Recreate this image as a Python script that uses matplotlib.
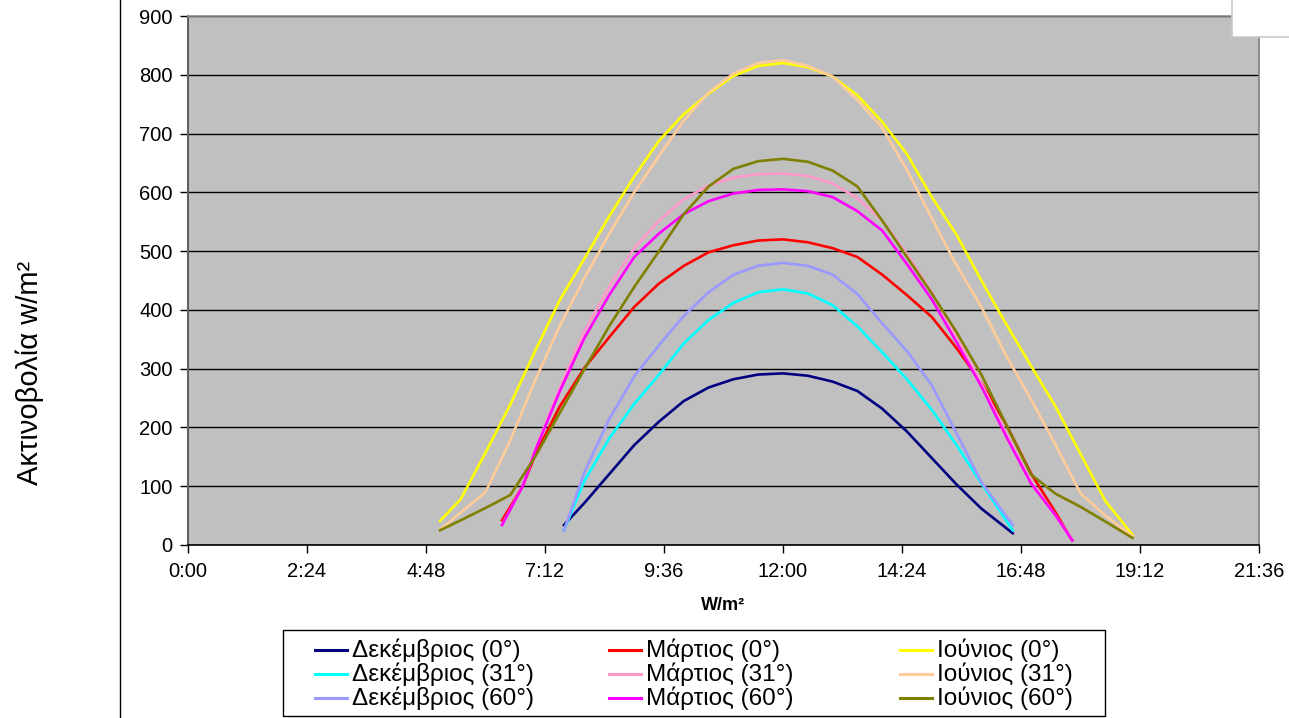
#!/usr/bin/env python3

import matplotlib.pyplot as plt
from matplotlib.lines import Line2D
from matplotlib.patches import Rectangle

plt.rcParams["font.family"] = ["Liberation Sans", "DejaVu Sans"]

OUT_FILE = "out.png"

# time of day in minutes after midnight
dec_times = [455, 480, 510, 540, 570, 600, 630, 660, 690, 720, 750, 780,
             810, 840, 870, 900, 930, 960, 998]
mar_times = [380, 405, 420, 450, 480, 510, 540, 570, 600, 630, 660, 690, 720,
             750, 780, 810, 840, 870, 900, 930, 960, 990, 1020, 1050, 1070]
jun_times = [305, 330, 360, 390, 420, 450, 480, 510, 540, 570, 600, 630, 660,
             690, 720, 750, 780, 810, 840, 870, 900, 930, 960, 990, 1020,
             1050, 1080, 1110, 1143]

# irradiance W/m2, per month and panel tilt
dec_0 = [34, 72, 121, 170, 210, 245, 268, 282, 290, 292, 288, 278, 262,
         232, 193, 148, 103, 62, 20]
dec_31 = [25, 110, 182, 240, 290, 343, 383, 412, 430, 435, 428, 408, 372,
          328, 282, 230, 170, 105, 25]
dec_60 = [25, 125, 215, 287, 340, 390, 430, 460, 475, 480, 475, 460, 427,
          377, 330, 272, 190, 107, 34]

mar_0 = [42, 100, 153, 236, 302, 354, 405, 445, 475, 498, 510, 518, 520,
         515, 505, 490, 460, 425, 388, 335, 276, 205, 122, 55, 8]
mar_31 = [35, 100, 162, 268, 365, 440, 505, 552, 588, 612, 625, 631, 632,
          628, 615, 590, 552, 495, 430, 355, 275, 190, 108, 50, 10]
mar_60 = [34, 100, 160, 262, 353, 426, 490, 530, 563, 585, 598, 604, 605,
          602, 592, 568, 535, 478, 418, 345, 270, 185, 105, 50, 8]

jun_0 = [41, 78, 157, 239, 330, 417, 488, 560, 627, 688, 733, 768, 798, 815,
         820, 813, 797, 765, 720, 665, 592, 528, 450, 376, 305, 235, 155, 75,
         17]
jun_31 = [26, 55, 90, 178, 280, 373, 455, 530, 600, 662, 722, 770, 802, 820,
          825, 815, 797, 757, 710, 638, 556, 476, 405, 322, 248, 170, 88, 50,
          15]
jun_60 = [25, 42, 63, 85, 150, 225, 300, 373, 439, 500, 563, 610, 640, 653,
          657, 652, 637, 610, 552, 490, 428, 362, 290, 205, 120, 87, 65, 40,
          12]

series = [
    ("Δεκέμβριος (0°)", dec_times, dec_0, "#000080"),
    ("Μάρτιος (0°)", mar_times, mar_0, "#FF0000"),
    ("Ιούνιος (0°)", jun_times, jun_0, "#FFFF00"),
    ("Δεκέμβριος (31°)", dec_times, dec_31, "#00FFFF"),
    ("Μάρτιος (31°)", mar_times, mar_31, "#FF99CC"),
    ("Ιούνιος (31°)", jun_times, jun_31, "#FFCC99"),
    ("Δεκέμβριος (60°)", dec_times, dec_60, "#9999FF"),
    ("Μάρτιος (60°)", mar_times, mar_60, "#FF00FF"),
    ("Ιούνιος (60°)", jun_times, jun_60, "#808000"),
]

x_ticks = list(range(0, 1297, 144))
y_ticks = list(range(0, 901, 100))

W, H = 1289, 718


def fmt_time(m):
    return f"{m // 60}:{m % 60:02d}"


def draw_legend(fig):
    # Excel style legend, 3 columns x 3 rows, laid out by hand
    fig.add_artist(Rectangle((283 / W, 1 - 716 / H), 822 / W, 86 / H,
                             facecolor="white", edgecolor="black", lw=1))
    col_x = [315, 609, 900]
    row_y = [650, 674, 698]
    for i, (label, _, _, color) in enumerate(series):
        row, col = divmod(i, 3)
        x0 = col_x[col]
        y = 1 - row_y[row] / H
        fig.add_artist(Line2D([x0 / W, (x0 + 32) / W], [y, y],
                              color=color, lw=2.2))
        fig.text((x0 + 37) / W, y, label, fontsize=17.5,
                 ha="left", va="center")


def main():
    fig = plt.figure(figsize=(W / 100, H / 100), dpi=100)
    ax = fig.add_axes([188 / W, 1 - 545 / H, (1259 - 188) / W, (545 - 16) / H])
    ax.set_facecolor("#C0C0C0")

    for label, t, v, color in series:
        ax.plot(t, v, color=color, lw=1.9, solid_joinstyle="round")

    ax.set_xlim(0, 1296)
    ax.set_ylim(0, 900)
    ax.set_xticks(x_ticks)
    ax.set_xticklabels([fmt_time(m) for m in x_ticks])
    ax.set_yticks(y_ticks)
    ax.tick_params(labelsize=14.5, length=6, width=1, direction="out",
                   colors="black")
    ax.tick_params(axis="x", pad=6)
    ax.tick_params(axis="y", pad=5)
    ax.yaxis.grid(True, color="black", lw=1)
    ax.set_axisbelow(True)

    ax.spines["left"].set_color("#606060")
    ax.spines["left"].set_linewidth(1.5)
    ax.spines["right"].set_color("#808080")
    ax.spines["right"].set_linewidth(1.2)
    ax.spines["top"].set_color("#909090")
    ax.spines["top"].set_linewidth(1.2)
    ax.spines["bottom"].set_color("black")
    ax.spines["bottom"].set_linewidth(1.2)

    ax.set_xlabel("W/m²", fontsize=13, fontweight="bold", labelpad=12)
    fig.text(30 / W, 1 - 373 / H, "Ακτινοβολία w/m²", rotation=90,
             fontsize=21, ha="center", va="center")

    # vertical separator line on the left and the clipped box top right
    fig.add_artist(Line2D([120 / W, 120 / W], [0, 1], color="black", lw=1))
    fig.add_artist(Rectangle((1232 / W, 1 - 37 / H), 60 / W, 40 / H,
                             facecolor="white", edgecolor="#C8C8C8", lw=1.2))

    draw_legend(fig)

    plt.savefig(OUT_FILE, dpi=100)


if __name__ == "__main__":
    main()
